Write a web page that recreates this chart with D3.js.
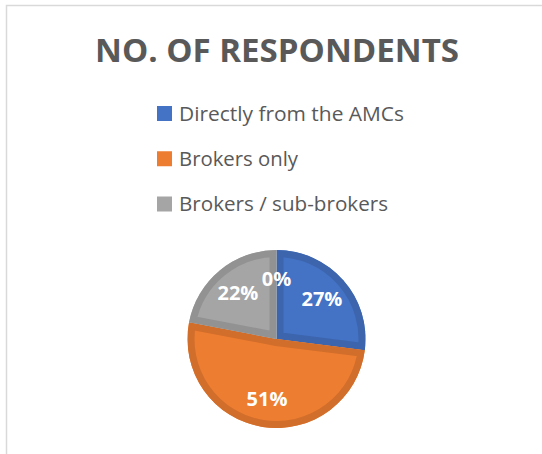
<!DOCTYPE html>
<html>
<head>
<meta charset="utf-8">
<script src="https://cdn.jsdelivr.net/npm/d3@7"></script>
<style>
  html, body { margin: 0; padding: 0; background: #ffffff; }
  svg { display: block; }
</style>
</head>
<body>
<svg id="chart" width="542" height="454"></svg>
<script>
const title = "NO. OF RESPONDENTS";
const legendLabels = ["Directly from the AMCs", "Brokers only", "Brokers / sub-brokers"];
const sliceKeys = ["Directly from the AMCs", "Brokers only", "Brokers / sub-brokers", "Other"];
const sliceValues = [27, 51, 22, 0];
const sliceLabels = ["27%", "51%", "22%", "0%"];
const sliceColors = ["#4472C4", "#ED7D31", "#A5A5A5", "#FFC000"];

const svg = d3.select("#chart");
const W = 542, H = 454;
const textColor = "#595959";

// chart area border
svg.append("rect")
  .attr("x", 6.5).attr("y", 5.5)
  .attr("width", W + 10).attr("height", H + 10)
  .attr("fill", "#ffffff")
  .attr("stroke", "#d9d9d9")
  .attr("stroke-width", 1.5);

// title
svg.append("text")
  .attr("x", 277).attr("y", 62)
  .attr("text-anchor", "middle")
  .attr("font-family", "'Open Sans', sans-serif")
  .attr("font-weight", "bold")
  .attr("font-size", 32)
  .attr("fill", textColor)
  .attr("textLength", 364)
  .attr("lengthAdjust", "spacingAndGlyphs")
  .text(title);

// legend
const legendY = d3.scalePoint().domain(legendLabels).range([113.5, 204]);
const colorScale = d3.scaleOrdinal().domain(sliceKeys).range(sliceColors);
const legendWidths = { "Directly from the AMCs": 225, "Brokers only": 119, "Brokers / sub-brokers": 209 };
const lg = svg.append("g").selectAll("g").data(legendLabels).join("g")
  .attr("transform", d => `translate(157,${legendY(d)})`);
lg.append("rect")
  .attr("x", 0).attr("y", -7.5)
  .attr("width", 15).attr("height", 15)
  .attr("fill", d => colorScale(d));
lg.append("text")
  .attr("x", 22).attr("y", 7.3)
  .attr("font-family", "'Open Sans', sans-serif")
  .attr("font-size", 20.5)
  .attr("fill", textColor)
  .attr("textLength", d => legendWidths[d])
  .attr("lengthAdjust", "spacingAndGlyphs")
  .text(d => d);

// pie
const cx = 276.5, cy = 339, R = 89, band = 7;
const pieData = d3.pie().sort(null).value(d => d.v)(
  sliceKeys.map((k, i) => ({ k, v: sliceValues[i], label: sliceLabels[i] }))
);
const arc = d3.arc().innerRadius(0).outerRadius(R);
const labelArc = d3.arc().innerRadius(R * 0.68).outerRadius(R * 0.68);

const pg = svg.append("g").attr("transform", `translate(${cx},${cy})`);
const defs = svg.append("defs");
pieData.forEach((d, i) => {
  if (d.data.v <= 0) return;
  defs.append("clipPath").attr("id", "clip" + i)
    .append("path").attr("d", arc(d));
});
const slices = pg.selectAll("g.slice").data(pieData.filter(d => d.data.v > 0)).join("g")
  .attr("class", "slice");
slices.append("path")
  .attr("d", d => arc(d))
  .attr("fill", d => colorScale(d.data.k));
slices.append("path")
  .attr("d", d => arc(d))
  .attr("fill", "none")
  .attr("stroke", d => d3.color(colorScale(d.data.k)).darker(0.35))
  .attr("stroke-width", band * 2)
  .attr("stroke-linejoin", "miter")
  .attr("clip-path", d => `url(#clip${pieData.indexOf(d)})`);

// labels
pg.selectAll("text.lbl").data(pieData).join("text")
  .attr("class", "lbl")
  .attr("transform", d => `translate(${labelArc.centroid(d)})`)
  .attr("text-anchor", "middle")
  .attr("dy", "0.36em")
  .attr("font-family", "'Open Sans', sans-serif")
  .attr("font-weight", "bold")
  .attr("font-size", 20)
  .attr("fill", "#ffffff")
  .text(d => d.data.label);
</script>
</body>
</html>
